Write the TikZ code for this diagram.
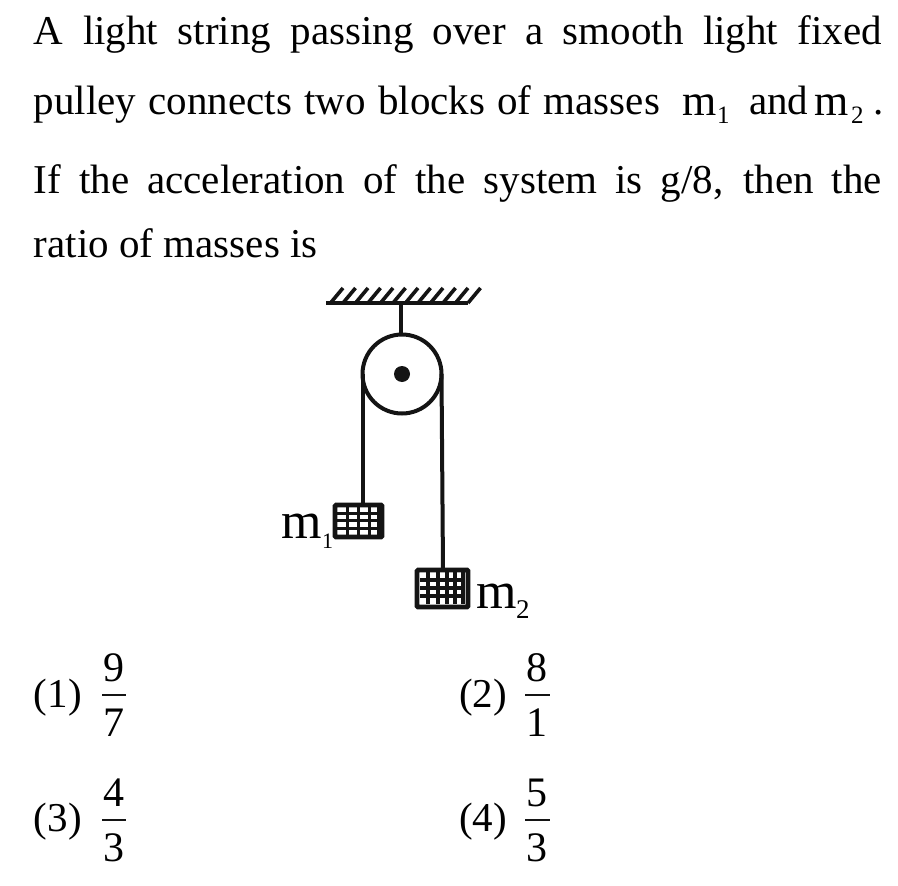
\documentclass[tikz,border=0pt]{standalone}
\usepackage{fontspec}
\setmainfont{Liberation Serif}
\tikzset{
  ink/.style={line width=4pt,color=black!92},
  txt/.style={inner sep=0pt,outer sep=0pt,anchor=base west,font=\fontsize{41}{41}\selectfont},
  mass/.style={inner sep=0pt,outer sep=0pt,anchor=base west,font=\fontsize{44}{44}\selectfont},
  bigmass/.style={inner sep=0pt,outer sep=0pt,anchor=base west,font=\fontsize{52}{52}\selectfont},
  sub/.style={inner sep=0pt,outer sep=0pt,anchor=base west,font=\fontsize{25}{25}\selectfont},
  digit/.style={inner sep=0pt,outer sep=0pt,anchor=center,font=\fontsize{42}{42}\selectfont},
  wheel/.style={circle,draw,line width=4pt,color=black!92,minimum size=79pt,inner sep=0pt},
  hub/.style={circle,fill=black!92,minimum size=16pt,inner sep=0pt},
  blockbox/.style={inner sep=0pt,outer sep=0pt,rectangle,rounded corners=1pt,draw=black!92,line width=4.6pt},
  barline/.style={line width=2pt,color=black!92}
}
\begin{document}
\begin{tikzpicture}[x=1pt,y=-1pt]
\useasboundingbox (0,0) rectangle (898,886);
% question
\node[txt] (l1) at (34,45) {\makebox[848pt][s]{A light string passing over a smooth light fixed}};
\node[txt] (l2) at (34,114) {\makebox[626pt][s]{pulley connects two blocks of masses}};
\node[mass] (qm1) at (682,115) {m};
\node[sub] (qs1) at (717,123) {1};
\node[txt] (qand) at (749,114) {and};
\node[mass] (qm2) at (814,115) {m};
\node[sub] (qs2) at (851,123) {2};
\node[txt] (qdot) at (873,114) {.};
\node[txt] (l3) at (34,193) {\makebox[848pt][s]{If the acceleration of the system is g/8, then the}};
\node[txt] (l4) at (34,257) {ratio of masses is};
% support
\coordinate (ceilL) at (326,303);
\coordinate (ceilR) at (468,303);
\draw[line width=3.8pt,color=black!92] (ceilL) -- (ceilR);
\foreach \i in {0,...,11}{
  \draw[line width=3.6pt,color=black!92] ({330.5+12.5*\i},303) -- ({343+12.5*\i},288);
}
% pulley
\node[wheel] (pulley) at (402,374) {};
\node[hub] (axle) at (402,374) {};
\coordinate (hang) at (401,303);
\draw[ink] (hang) -- (401,334);
% blocks
\node[blockbox,minimum width=47pt,minimum height=32pt] (b1) at (358.5,521) {};
\node[blockbox,minimum width=51pt,minimum height=37pt] (b2) at (442.5,588.5) {};
\begin{scope}[line width=3pt,color=black!92]
  \foreach \y in {513,520.5,528}{\draw (336,\y) -- (381,\y);}
  \foreach \x in {347,358,369,378}{\draw (\x,505) -- (\x,537);}
\end{scope}
\begin{scope}[line width=4pt,color=black!92]
  \foreach \y in {580,588,596}{\draw (420,\y) -- (465,\y);}
  \foreach \x in {428,438,447,455,463}{\draw[line width=3.4pt] (\x,571) -- (\x,604);}
\end{scope}
% strings
\draw[ink] (362.5,374) -- (b1.north -| 362.5,374);
\draw[ink] (441.5,374) -- (443,570);
% mass labels
\node[bigmass] (lm1) at (281,538) {m};
\node[sub,font=\fontsize{22}{22}\selectfont] (ls1) at (322,548) {1};
\node[bigmass] (lm2) at (476,608) {m};
\node[sub,font=\fontsize{27}{27}\selectfont] (ls2) at (516,618) {2};
% options
\node[txt] (o1) at (34,707) {(1)};
\node[digit] (o1n) at (114,668) {9};
\node[digit] (o1d) at (114,723) {7};
\draw[barline] (102,695) -- (126,695);
\node[txt] (o2) at (459,707) {(2)};
\node[digit] (o2n) at (537,668) {8};
\node[digit] (o2d) at (537,723) {1};
\draw[barline] (525,695) -- (550,695);
\node[txt] (o3) at (34,831) {(3)};
\node[digit] (o3n) at (114,793) {4};
\node[digit] (o3d) at (114,848) {3};
\draw[barline] (102,820) -- (126,820);
\node[txt] (o4) at (459,831) {(4)};
\node[digit] (o4n) at (537,793) {5};
\node[digit] (o4d) at (537,848) {3};
\draw[barline] (525,820) -- (550,820);
\end{tikzpicture}
\end{document}
